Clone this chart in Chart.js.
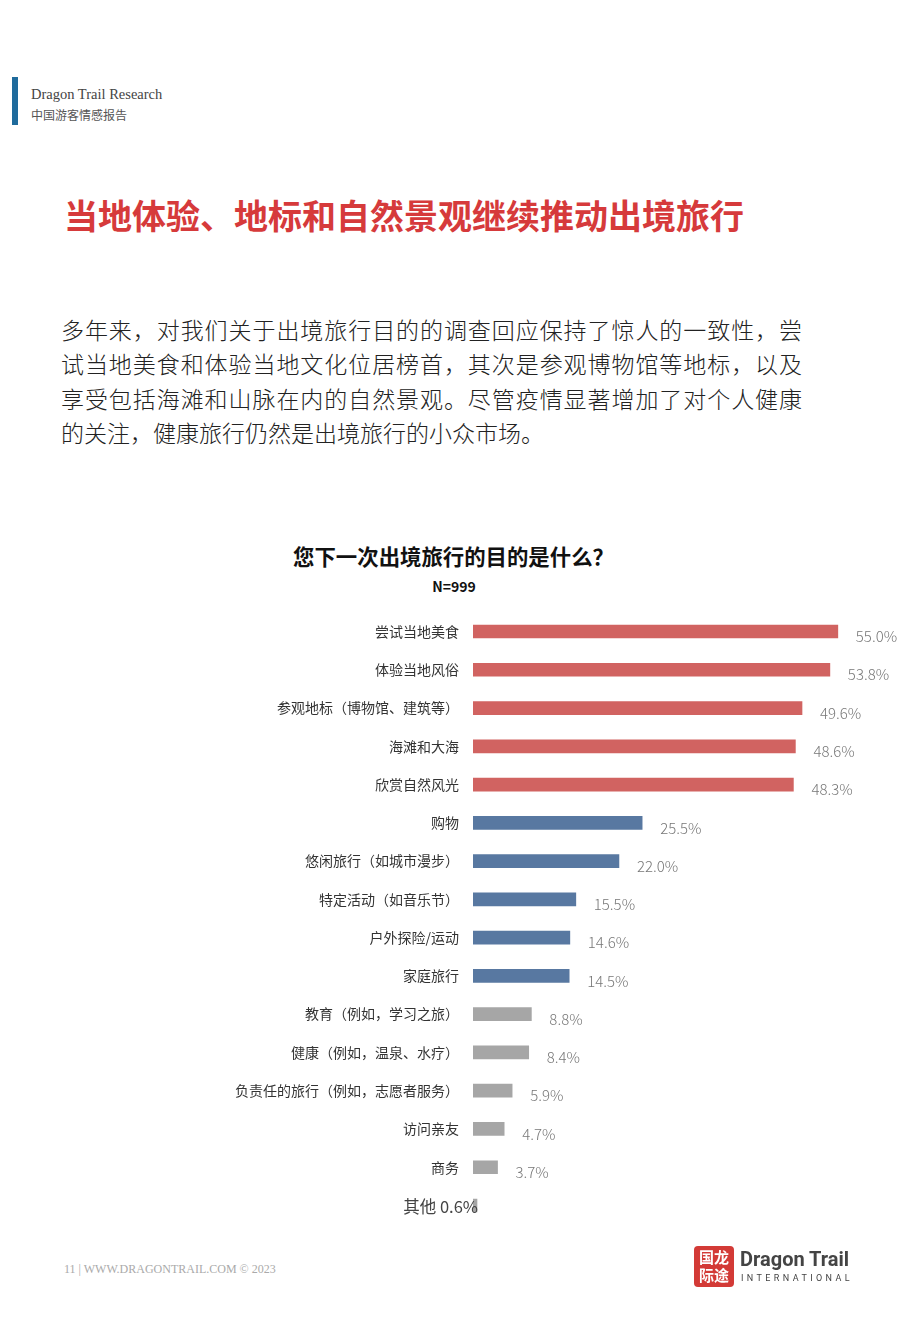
<!DOCTYPE html>
<html>
<head>
<meta charset="utf-8">
<script src="https://cdn.jsdelivr.net/npm/chart.js@4"></script>
<style>
  body { margin: 0; background: #fff; width: 920px; height: 1329px; position: relative; overflow: hidden; font-family: "Noto Sans CJK SC", sans-serif; }
  .abs { position: absolute; }
  #bar { left: 12px; top: 77px; width: 6px; height: 48px; background: #1f6b9c; }
  #brand { left: 31px; top: 86px; font-family: "Liberation Serif", serif; font-size: 14.5px; color: #444; }
  #brand2 { left: 31px; top: 106px; font-size: 12px; color: #555; }
  #title { left: 64px; top: 190px; font-size: 34px; font-weight: bold; color: #d63a3b; white-space: nowrap; }
  #para { left: 61px; top: 312px; width: 741px; font-size: 23px; line-height: 34.4px; color: #222; font-weight: 300; }
  #para div { text-align: justify; text-align-last: justify; white-space: nowrap; }
  #para div.last { text-align-last: left; }
  #q { left: 0; width: 907px; top: 540px; text-align: center; font-size: 21.4px; font-weight: bold; color: #111; white-space: nowrap; }
  #n { left: 0; width: 908px; top: 576px; text-align: center; font-size: 14px; font-weight: bold; color: #111; }
  #chartBox { left: 0; top: 590px; width: 920px; height: 657px; }
  #foot { left: 64px; top: 1262px; font-family: "Liberation Serif", serif; font-size: 12px; color: #aaa; }
  #logo { left: 694px; top: 1246px; width: 40px; height: 41px; background: #d33a36; border-radius: 4px; color: #fff; font-size: 15px; line-height: 18px; text-align: center; font-weight: bold; padding-top: 2px; box-sizing: border-box; }
  #dt { left: 740px; top: 1247px; font-family: Roboto, sans-serif; font-weight: bold; font-size: 20px; color: #444; }
  #intl { left: 741px; top: 1273px; font-family: Roboto, sans-serif; font-size: 9px; letter-spacing: 3.4px; color: #444; }
</style>
</head>
<body>
<div id="bar" class="abs"></div>
<div id="brand" class="abs">Dragon Trail Research</div>
<div id="brand2" class="abs">中国游客情感报告</div>
<div id="title" class="abs">当地体验、地标和自然景观继续推动出境旅行</div>
<div id="para" class="abs">
  <div>多年来，对我们关于出境旅行目的的调查回应保持了惊人的一致性，尝</div>
  <div>试当地美食和体验当地文化位居榜首，其次是参观博物馆等地标，以及</div>
  <div>享受包括海滩和山脉在内的自然景观。尽管疫情显著增加了对个人健康</div>
  <div class="last">的关注，健康旅行仍然是出境旅行的小众市场。</div>
</div>
<div id="q" class="abs">您下一次出境旅行的目的是什么？</div>
<div id="n" class="abs">N=999</div>
<div id="chartBox" class="abs"><canvas id="myChart" width="920" height="657"></canvas></div>
<div id="foot" class="abs">11 | WWW.DRAGONTRAIL.COM © 2023</div>
<div id="logo" class="abs">国龙<br>际途</div>
<div id="dt" class="abs">Dragon Trail</div>
<div id="intl" class="abs">INTERNATIONAL</div>

<script>
// 数据
var categories = ['尝试当地美食', '体验当地风俗', '参观地标（博物馆、建筑等）', '海滩和大海', '欣赏自然风光',
    '购物', '悠闲旅行（如城市漫步）', '特定活动（如音乐节）', '户外探险/运动', '家庭旅行',
    '教育（例如，学习之旅）', '健康（例如，温泉、水疗）', '负责任的旅行（例如，志愿者服务）', '访问亲友', '商务', '其他'];
var values = [55.0, 53.8, 49.6, 48.6, 48.3, 25.5, 22.0, 15.5, 14.6, 14.5, 8.8, 8.4, 5.9, 4.7, 3.7, 0.6];
var groups = [0, 0, 0, 0, 0, 1, 1, 1, 1, 1, 2, 2, 2, 2, 2, 2];
var groupColors = ['#d16361', '#5878a1', '#a6a6a6'];

var colors = groups.map(function(g) { return groupColors[g]; });

// 数值标签
var labelPlugin = {
    id: 'valueLabels',
    afterDatasetsDraw: function(chart) {
        var ctx = chart.ctx;
        var meta = chart.getDatasetMeta(0);
        ctx.save();
        meta.data.forEach(function(bar, i) {
            if (i === values.length - 1) {
                // 其他 0.6% 写在柱子左边
                ctx.font = '16.5px "Noto Sans CJK SC"';
                ctx.fillStyle = '#444';
                ctx.textAlign = 'right';
                ctx.textBaseline = 'middle';
                ctx.fillText(categories[i] + ' ' + values[i].toFixed(1) + '%', bar.x + 1, bar.y + 1);
            } else {
                ctx.font = '300 15px "Noto Sans CJK SC"';
                ctx.fillStyle = '#777';
                ctx.textAlign = 'left';
                ctx.textBaseline = 'middle';
                ctx.fillText(values[i].toFixed(1) + '%', bar.x + 18, bar.y + 5);
            }
        });
        ctx.restore();
    }
};

var ctx = document.getElementById('myChart').getContext('2d');
var myChart = new Chart(ctx, {
    type: 'bar',
    data: {
        labels: categories,
        datasets: [{
            data: values,
            backgroundColor: colors,
            barThickness: 13
        }]
    },
    options: {
        indexAxis: 'y',
        responsive: false,
        animation: false,
        layout: { padding: { top: 0, bottom: 0, right: 49, left: 0 } },
        plugins: { legend: { display: false }, tooltip: { enabled: false } },
        scales: {
            x: { display: false, min: 0, max: 60 },
            y: {
                grid: { display: false, drawTicks: false },
                border: { display: false },
                afterFit: function(scale) { scale.width = 473; },
                ticks: {
                    padding: 14,
                    color: '#333',
                    font: { size: 14, family: '"Noto Sans CJK SC"' },
                    callback: function(v, i) { return i === categories.length - 1 ? '' : categories[i]; }
                }
            }
        }
    },
    plugins: [labelPlugin]
});
</script>
</body>
</html>
